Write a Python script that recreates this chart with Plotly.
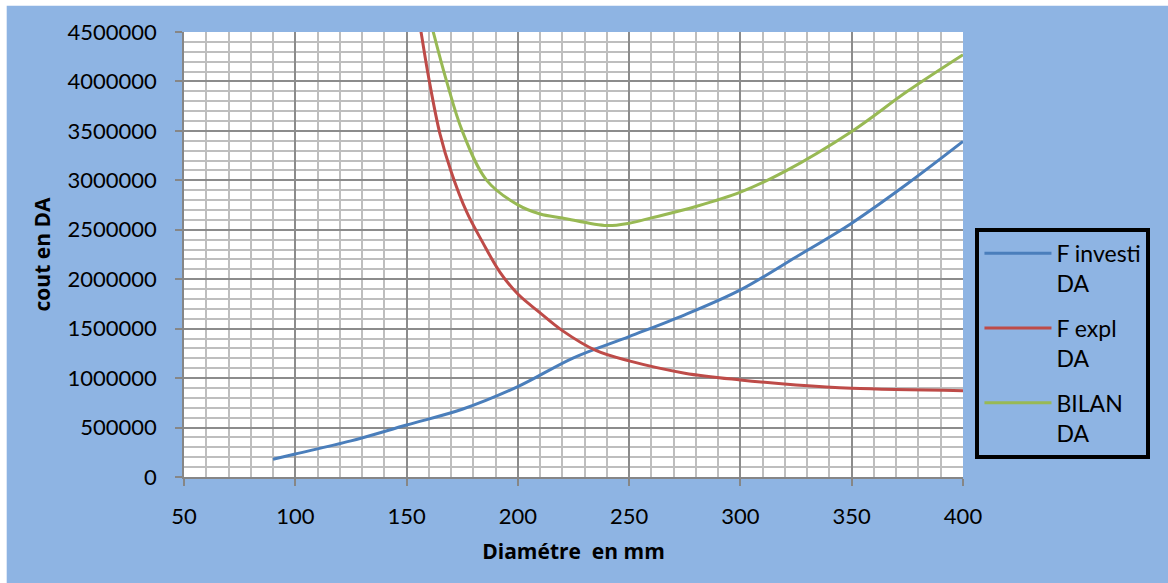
import plotly.graph_objects as go

# ---- data ----
inv_x = [90, 100, 125, 150, 175, 200, 225, 250, 275, 300, 325, 350, 375, 400]
inv_y = [180000, 233000, 365000, 526000, 685000, 914000, 1205000, 1420000,
         1640000, 1892000, 2225000, 2567000, 2965000, 3393000]

expl_x = [150, 156.5, 160, 165, 170, 177, 184, 192, 200, 210, 220, 235, 250, 275, 300, 325, 350, 400]
expl_y = [5400000, 4500000, 4030000, 3470000, 3090000, 2680000, 2380000, 2070000, 1850000,
          1660000, 1480000, 1280000, 1174000, 1050000, 981000, 931000, 897000, 873000]

bil_x = [157, 162, 168, 175, 186, 200, 210, 220, 240, 250, 260, 280, 300, 320, 350, 375, 400]
bil_y = [4950000, 4500000, 4000000, 3500000, 3000000, 2752000, 2660000, 2620000, 2543000,
         2567000, 2620000, 2735000, 2880000, 3090000, 3494000, 3900000, 4270000]

names = ["F investi<br>DA", "F expl<br>DA", "BILAN<br>DA"]
colors = ["#4A7EBB", "#BE4B48", "#98B954"]

x_title = "Diamétre\u00a0 en mm"
y_title = "cout en DA"

FONT = "Lato"
TFONT = "Open Sans"

fig = go.Figure()
for i, (xs, ys) in enumerate([(inv_x, inv_y), (expl_x, expl_y), (bil_x, bil_y)]):
    fig.add_trace(go.Scatter(
        x=xs, y=ys, mode="lines", name=names[i], legendgroup=str(i),
        line=dict(color=colors[i], width=3, shape="spline", smoothing=1.0),
    ))

axis_common = dict(
    showline=True, linecolor="#868686", linewidth=1.5,
    ticks="outside", ticklen=7, tickcolor="#868686", tickwidth=1.5,
    showgrid=True, gridcolor="#8C8C8C", gridwidth=1.5,
    zeroline=False, tickfont=dict(family=FONT, size=22, color="black"),
    title_font=dict(family=TFONT, size=21, color="black"),
)

fig.update_xaxes(
    range=[50, 400], tick0=50, dtick=50,
    minor=dict(dtick=10, showgrid=True, gridcolor="#BEBEBE", gridwidth=1.5),
    title_text="<b>" + x_title + "</b>", title_standoff=16,
    ticklabelstandoff=12,
    **axis_common,
)
fig.update_yaxes(
    range=[0, 4500000], tick0=0, dtick=500000, tickformat="d",
    minor=dict(dtick=100000, showgrid=True, gridcolor="#BEBEBE", gridwidth=1.5),
    title_text="<b>" + y_title + "</b>", title_standoff=11,
    ticklabelstandoff=14,
    **axis_common,
)

fig.update_layout(
    width=1168, height=583,
    margin=dict(l=184, r=205, t=32, b=106),
    paper_bgcolor="#8EB4E3", plot_bgcolor="white",
    font=dict(family=FONT, color="black"),
    legend=dict(
        x=1.016, y=0.56, xanchor="left", yanchor="top",
        bgcolor="rgba(0,0,0,0)", bordercolor="black", borderwidth=4,
        font=dict(family=FONT, size=23, color="black"),
        tracegroupgap=12, valign="top", itemwidth=67,
    ),
    showlegend=True,
    shapes=[
        dict(type="rect", xref="paper", yref="paper", x0=-0.25, x1=1.35,
             y0=1.0591, y1=1.09, fillcolor="white", line_width=0, layer="above"),
        dict(type="rect", xref="paper", yref="paper", x0=-0.25, x1=-0.2276,
             y0=-0.3, y1=1.09, fillcolor="white", line_width=0, layer="above"),
    ],
)

fig.write_html("out.html")
